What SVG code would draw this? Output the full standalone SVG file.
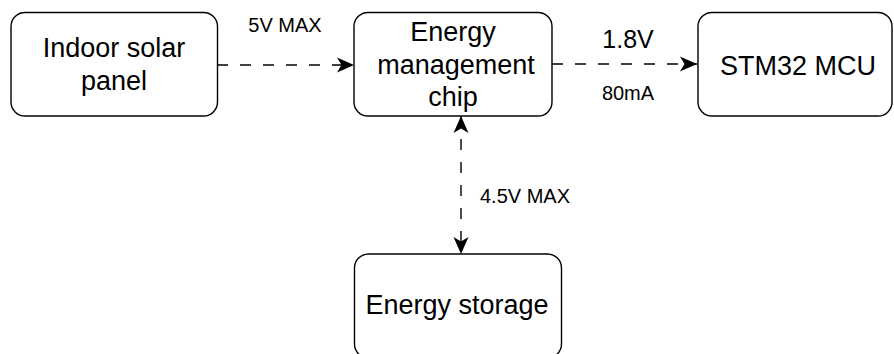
<svg xmlns="http://www.w3.org/2000/svg" width="894" height="354" viewBox="0 0 894 354">
<defs>
<style>
.box{fill:#fff;stroke:#000;stroke-width:1.4}
.t{font-family:"Liberation Sans",Arial,sans-serif;font-size:27px;fill:#000;text-anchor:middle}
.s{font-family:"Liberation Sans",Arial,sans-serif;font-size:20px;fill:#000;text-anchor:middle}
.e{fill:none;stroke:#000;stroke-width:1.4;stroke-dasharray:11 12}
</style>
<marker id="ah" viewBox="0 0 17 16" refX="17" refY="8" markerWidth="17" markerHeight="16" markerUnits="userSpaceOnUse" orient="auto-start-reverse">
<path d="M17,8 L0,0.5 L4.5,8 L0,15.5 Z" fill="#000"/>
</marker>
</defs>
<rect width="894" height="354" fill="#fff"/>
<g id="connectors">
<path class="e" d="M217,65 H354" marker-end="url(#ah)"/>
<path class="e" d="M552,64 H697" marker-end="url(#ah)"/>
<path class="e" d="M461,116 V254" marker-start="url(#ah)" marker-end="url(#ah)"/>
<text class="s" x="285" y="32">5V MAX</text>
<text class="t" x="628" y="48" style="font-size:25px">1.8V</text>
<text class="s" x="628" y="100">80mA</text>
<text class="s" x="525" y="203">4.5V MAX</text>
</g>
<g id="solar">
<rect class="box" x="11" y="12.5" width="206.5" height="103.5" rx="14"/>
<text class="t" x="114" y="57">Indoor solar</text>
<text class="t" x="114" y="90">panel</text>
</g>
<g id="chip">
<rect class="box" x="354" y="12.5" width="198" height="103.5" rx="14"/>
<text class="t" x="453" y="41">Energy</text>
<text class="t" x="456" y="73.5">management</text>
<text class="t" x="453" y="105.5">chip</text>
</g>
<g id="mcu">
<rect class="box" x="698" y="12.5" width="194" height="103.5" rx="14"/>
<text class="t" x="798" y="75">STM32 MCU</text>
</g>
<g id="storage">
<rect class="box" x="354.5" y="254" width="207" height="104" rx="14"/>
<text class="t" x="457" y="313.5">Energy storage</text>
</g>
</svg>
